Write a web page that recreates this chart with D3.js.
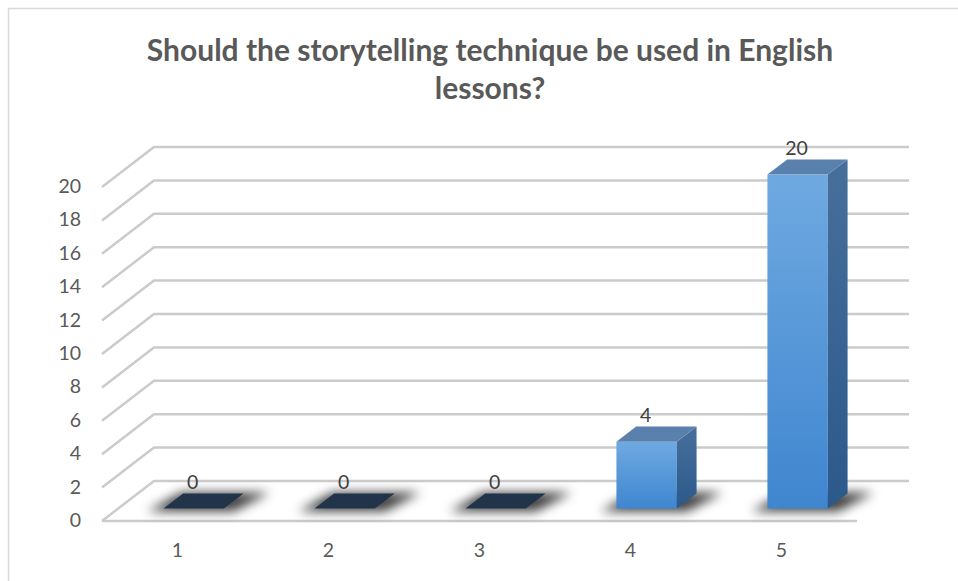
<!DOCTYPE html>
<html>
<head>
<meta charset="utf-8">
<script src="https://cdn.jsdelivr.net/npm/d3@7"></script>
<style>
  html, body { margin: 0; padding: 0; background: #fff; }
  svg { display: block; }
</style>
</head>
<body>
<svg id="chart" width="958" height="581"></svg>
<script>
// Survey answers on a 1–5 scale and how many respondents chose each
const categories = ["1", "2", "3", "4", "5"];
const counts = [0, 0, 0, 4, 20];
const yTicks = [0, 2, 4, 6, 8, 10, 12, 14, 16, 18, 20];
const titleLines = ["Should the storytelling technique be used in English", "lessons?"];

const W = 958, H = 581;
const svg = d3.select("#chart");

// Front plane of the 3D plot and the depth offset to the back wall
const x = d3.scaleBand().domain(categories).range([102, 857]).paddingInner(0.6).paddingOuter(0.3);
const y = d3.scaleLinear().domain([0, 20]).range([521, 187]);
const depth = { dx: 52, dy: -40 };
const barFront = 0.31, barBack = 0.69;   // bars sit in the middle of the floor depth

const defs = svg.append("defs");
const gFront = defs.append("linearGradient").attr("id", "gFront").attr("x1", 0).attr("y1", 0).attr("x2", 0).attr("y2", 1);
gFront.append("stop").attr("offset", "0%").attr("stop-color", "#6fa9e1");
gFront.append("stop").attr("offset", "100%").attr("stop-color", "#3f86cf");
const gSide = defs.append("linearGradient").attr("id", "gSide").attr("x1", 0).attr("y1", 0).attr("x2", 0).attr("y2", 1);
gSide.append("stop").attr("offset", "0%").attr("stop-color", "#476f9c");
gSide.append("stop").attr("offset", "100%").attr("stop-color", "#2b598a");
defs.append("filter").attr("id", "soft").attr("x", "-50%").attr("y", "-100%").attr("width", "200%").attr("height", "300%")
  .append("feGaussianBlur").attr("stdDeviation", 5.5);

// Chart area frame
svg.append("rect").attr("x", 8.5).attr("y", 8.5).attr("width", W + 20).attr("height", H + 20)
  .attr("fill", "#fff").attr("stroke", "#d9d9d9").attr("stroke-width", 1.5);

// Title
const title = svg.append("text").attr("text-anchor", "middle")
  .attr("font-family", "Lato, 'Open Sans', sans-serif").attr("font-weight", "bold")
  .attr("font-size", 30).attr("fill", "#595959");
titleLines.forEach((t, i) => {
  title.append("tspan").attr("x", 490).attr("y", 61 + i * 38).text(t);
});

// Gridlines: side wall diagonal + back wall horizontal
const [x0, x1] = x.range();
const grid = svg.append("g").attr("fill", "none").attr("stroke", "#cbcbcb").attr("stroke-width", 2.5)
  .attr("stroke-linejoin", "round");
yTicks.forEach(v => {
  const yy = y(v);
  grid.append("path").attr("d", `M${x0},${yy} L${x0 + depth.dx},${yy + depth.dy} L${x1 + depth.dx},${yy + depth.dy}`);
});
// Floor front edge
grid.append("line").attr("x1", x0).attr("y1", y(0)).attr("x2", x1).attr("y2", y(0));

// Y axis labels
svg.append("g").selectAll("text").data(yTicks).join("text")
  .attr("x", 81).attr("y", d => y(d) + 6)
  .attr("text-anchor", "end").attr("font-family", "Lato, 'Open Sans', sans-serif")
  .attr("font-size", 19.5).attr("fill", "#595959").text(d => d);

// Category labels
svg.append("g").selectAll("text").data(categories).join("text")
  .attr("x", d => x(d) + x.bandwidth() / 2).attr("y", 557)
  .attr("text-anchor", "middle").attr("font-family", "Lato, 'Open Sans', sans-serif")
  .attr("font-size", 19.5).attr("fill", "#595959").text(d => d);

const data = categories.map((c, i) => ({ c, v: counts[i] }));
const fx = depth.dx * barFront, fy = depth.dy * barFront;
const bdx = depth.dx * (barBack - barFront), bdy = depth.dy * (barBack - barFront);

// Floor shadows
svg.append("g").attr("filter", "url(#soft)").selectAll("path").data(data).join("path")
  .attr("d", d => {
    const l = x(d.c) + fx - 16, r = x(d.c) + x.bandwidth() + fx + 10, b = y(0) + fy + 3;
    return `M${l},${b} L${r},${b} L${r + bdx + 16},${b + bdy - 4} L${l + bdx + 14},${b + bdy - 4} Z`;
  })
  .attr("fill", "#000").attr("opacity", 0.75);

// Bars
const bars = svg.append("g").selectAll("g").data(data).join("g");
bars.each(function (d) {
  const g = d3.select(this);
  const l = x(d.c) + fx, r = l + x.bandwidth();
  const top = y(d.v) + fy, bot = y(0) + fy;
  if (d.v > 0) {
    g.append("rect").attr("x", l).attr("y", top).attr("width", r - l).attr("height", bot - top)
      .attr("fill", "url(#gFront)");
    g.append("path").attr("d", `M${r},${top} L${r + bdx},${top + bdy} L${r + bdx},${bot + bdy} L${r},${bot} Z`)
      .attr("fill", "url(#gSide)");
  }
  g.append("path").attr("d", `M${l},${top} L${r},${top} L${r + bdx},${top + bdy} L${l + bdx},${top + bdy} Z`)
    .attr("fill", d.v > 0 ? "#5a80ad" : "#22344a");
});

// Value labels
svg.append("g").selectAll("text").data(data).join("text")
  .attr("x", d => x(d.c) + fx + x.bandwidth() / 2 - 1)
  .attr("y", d => y(d.v) + fy - 20)
  .attr("text-anchor", "middle").attr("font-family", "Lato, 'Open Sans', sans-serif")
  .attr("font-size", 19.5).attr("fill", "#404040").text(d => d.v);
</script>
</body>
</html>
